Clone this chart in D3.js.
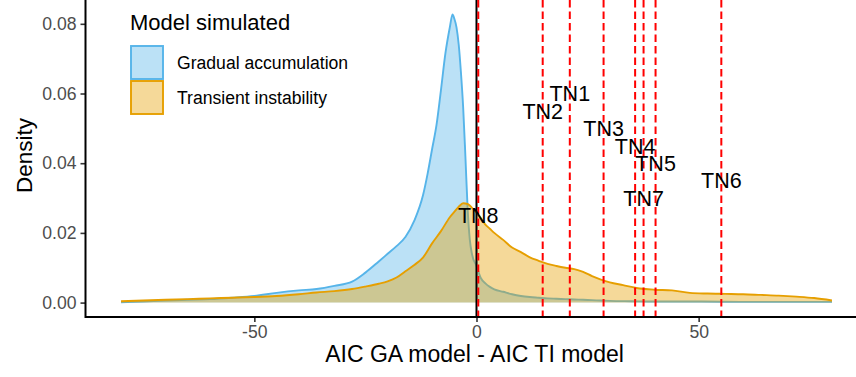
<!DOCTYPE html>
<html>
<head>
<meta charset="utf-8">
<script src="https://cdn.jsdelivr.net/npm/d3@7"></script>
<style>
  html, body { margin: 0; padding: 0; background: #fff; }
  svg { display: block; font-family: "Liberation Sans", Arial, Helvetica, sans-serif; }
</style>
</head>
<body>
<div id="chart"></div>
<script>
// Gradual accumulation (GA) density
const gaX = [-80, -75, -70, -65, -60, -55, -50, -45, -40, -36, -32, -28, -25, -22, -20, -18, -16, -14, -12, -11, -10, -9, -8, -7, -6, -5.4, -5, -4.5, -4, -3.5, -3, -2.5, -2, -1.5, -1, 0, 1, 2, 3, 4, 6, 8, 10, 12, 14, 16, 18, 20, 22, 24, 26, 28, 30, 35, 40, 50, 60, 70, 80];
const gaDensity = [0.0001, 0.0003, 0.0006, 0.0008, 0.0010, 0.0014, 0.0019, 0.0028, 0.0035, 0.0039, 0.0048, 0.0060, 0.0086, 0.0118, 0.0140, 0.0162, 0.0188, 0.0235, 0.0310, 0.0370, 0.0440, 0.0510, 0.0610, 0.0715, 0.0790, 0.0827, 0.0815, 0.0790, 0.0740, 0.0660, 0.0560, 0.0420, 0.0270, 0.0180, 0.0138, 0.0105, 0.0070, 0.0055, 0.0045, 0.0038, 0.0031, 0.0024, 0.0019, 0.0016, 0.0014, 0.0012, 0.0011, 0.0010, 0.0009, 0.0008, 0.0007, 0.0006, 0.0005, 0.0004, 0.0003, 0.0003, 0.0002, 0.0002, 0.0002];

// Transient instability (TI) density
const tiX = [-80, -75, -70, -65, -60, -55, -50, -45, -40, -36, -32, -28, -25, -22, -20, -18, -16, -14, -12, -10, -8, -6, -5, -4, -3, -2, -1, 0, 1, 2, 3, 4, 6, 8, 10, 12, 14, 16, 18, 20, 22, 24, 26, 28, 30, 33, 36, 40, 44, 48, 52, 56, 60, 64, 68, 72, 76, 80];
const tiDensity = [0.0004, 0.0006, 0.0008, 0.0010, 0.0012, 0.0014, 0.0016, 0.0019, 0.0024, 0.0029, 0.0033, 0.0039, 0.0046, 0.0054, 0.0061, 0.0072, 0.0090, 0.0108, 0.0130, 0.0170, 0.0205, 0.0245, 0.0260, 0.0275, 0.0285, 0.0283, 0.0272, 0.0258, 0.0242, 0.0224, 0.0212, 0.0200, 0.0180, 0.0158, 0.0145, 0.0130, 0.0120, 0.0111, 0.0105, 0.0100, 0.0096, 0.0088, 0.0076, 0.0066, 0.0058, 0.0050, 0.0042, 0.0037, 0.0035, 0.0028, 0.0026, 0.0025, 0.0024, 0.0022, 0.0020, 0.0017, 0.0013, 0.0006];

// observed values for the TN samples
const tnLabels = ['TN1', 'TN2', 'TN3', 'TN4', 'TN5', 'TN6', 'TN7', 'TN8'];
const tnValues = [21.0, 14.9, 28.6, 35.7, 40.3, 55.1, 37.6, 0.4];
const tnLabelY = [0.060, 0.055, 0.050, 0.045, 0.040, 0.035, 0.030, 0.025];

const seriesNames = ['Gradual accumulation', 'Transient instability'];
const seriesColors = ['#56B4E9', '#E69F00'];
const xTicks = [-50, 0, 50];
const yTicks = [0, 0.02, 0.04, 0.06, 0.08];

const width = 856, height = 377;
const panel = { left: 85.5, right: 867.5, top: 0, bottom: 317 };

const svg = d3.select('#chart')
  .append('svg')
  .attr('width', width)
  .attr('height', height);

const x = d3.scaleLinear()
  .domain([-88, 88])
  .range([panel.left, panel.right]);

const y = d3.scaleLinear()
  .domain([-0.004135, 0.086835])
  .range([panel.bottom, panel.top]);

const area = d3.area()
  .x(d => x(d[0]))
  .y0(y(0))
  .y1(d => y(d[1]))
  .curve(d3.curveMonotoneX);

const line = d3.line()
  .x(d => x(d[0]))
  .y(d => y(d[1]))
  .curve(d3.curveMonotoneX);

const series = [
  d3.zip(gaX, gaDensity),
  d3.zip(tiX, tiDensity)
];

series.forEach((pts, i) => {
  svg.append('path')
    .datum(pts)
    .attr('d', area)
    .attr('fill', seriesColors[i])
    .attr('fill-opacity', 0.4);
  svg.append('path')
    .datum(pts)
    .attr('d', line)
    .attr('fill', 'none')
    .attr('stroke', seriesColors[i])
    .attr('stroke-width', 1.9);
});

svg.append('line')
  .attr('x1', x(0)).attr('x2', x(0))
  .attr('y1', panel.top).attr('y2', panel.bottom)
  .attr('stroke', '#000')
  .attr('stroke-width', 2);

svg.selectAll('line.tn')
  .data(tnValues)
  .join('line')
    .attr('class', 'tn')
    .attr('x1', d => x(d)).attr('x2', d => x(d))
    .attr('y1', panel.top).attr('y2', panel.bottom)
    .attr('stroke', '#FF0000')
    .attr('stroke-width', 2)
    .attr('stroke-dasharray', '7.5,4');

svg.selectAll('text.tn')
  .data(tnLabels)
  .join('text')
    .attr('class', 'tn')
    .attr('x', (d, i) => x(tnValues[i]))
    .attr('y', (d, i) => y(tnLabelY[i]))
    .attr('text-anchor', 'middle')
    .attr('dy', '0.36em')
    .attr('font-size', 21.5)
    .attr('fill', '#000')
    .text(d => d);

// axes
const xAxis = svg.append('g')
  .attr('transform', `translate(0,${panel.bottom})`)
  .call(d3.axisBottom(x).tickValues(xTicks).tickSize(5).tickPadding(4).tickFormat(d => String(d)));
xAxis.select('.domain').remove();
xAxis.selectAll('line').attr('stroke', '#333').attr('stroke-width', 1.6);
xAxis.selectAll('text').attr('fill', '#4D4D4D').attr('font-size', 17.6).attr('font-family', null);

const yAxis = svg.append('g')
  .attr('transform', `translate(${panel.left},0)`)
  .call(d3.axisLeft(y).tickValues(yTicks).tickSize(5).tickPadding(4).tickFormat(d3.format('.2f')));
yAxis.select('.domain').remove();
yAxis.selectAll('line').attr('stroke', '#333').attr('stroke-width', 1.6);
yAxis.selectAll('text').attr('fill', '#4D4D4D').attr('font-size', 17.6).attr('font-family', null);

svg.append('line')
  .attr('x1', panel.left).attr('x2', width)
  .attr('y1', panel.bottom).attr('y2', panel.bottom)
  .attr('stroke', '#000').attr('stroke-width', 2);

svg.append('line')
  .attr('x1', panel.left).attr('x2', panel.left)
  .attr('y1', panel.top).attr('y2', panel.bottom + 1)
  .attr('stroke', '#000').attr('stroke-width', 2);

svg.append('text')
  .attr('x', (panel.left + panel.right) / 2 - 2)
  .attr('y', 362)
  .attr('text-anchor', 'middle')
  .attr('font-size', 23)
  .text('AIC GA model - AIC TI model');

svg.append('text')
  .attr('transform', `translate(31.5,${(panel.top + panel.bottom) / 2 - 3}) rotate(-90)`)
  .attr('text-anchor', 'middle')
  .attr('font-size', 22.5)
  .text('Density');

// legend
const legend = svg.append('g').attr('transform', 'translate(130,0)');
legend.append('text')
  .attr('x', 0).attr('y', 30)
  .attr('font-size', 22)
  .text('Model simulated');

const keys = legend.selectAll('g.key')
  .data(seriesNames)
  .join('g')
    .attr('class', 'key')
    .attr('transform', (d, i) => `translate(0,${46 + i * 35})`);

keys.append('rect')
  .attr('x', 1).attr('y', 0)
  .attr('width', 32).attr('height', 33)
  .attr('fill', (d, i) => seriesColors[i])
  .attr('fill-opacity', 0.4)
  .attr('stroke', (d, i) => seriesColors[i])
  .attr('stroke-width', 1.9);

keys.append('text')
  .attr('x', 47).attr('y', 16.5)
  .attr('dy', '0.36em')
  .attr('font-size', 17.6)
  .text(d => d);
</script>
</body>
</html>
